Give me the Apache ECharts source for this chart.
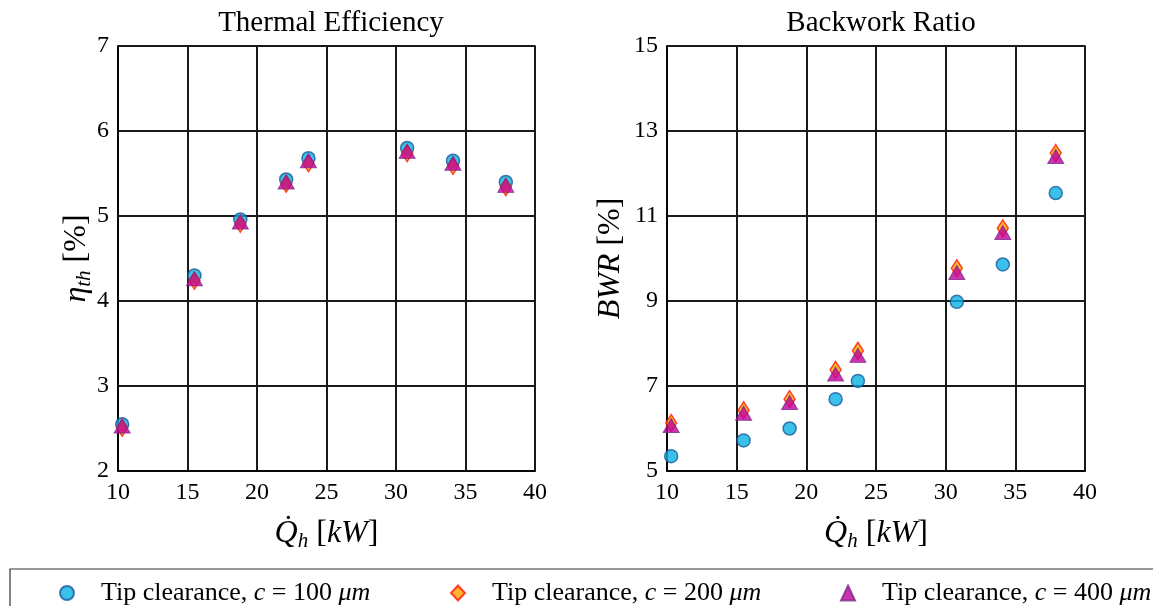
<!DOCTYPE html>
<html>
<head>
<meta charset="utf-8">
<script src="https://cdn.jsdelivr.net/npm/echarts@6/dist/echarts.min.js"></script>
<style>
  html, body { margin: 0; padding: 0; background: #fff; }
  #chart { width: 1153px; height: 606px; }
</style>
</head>
<body>
<div id="chart"></div>
<script>
// heat input (kW), shared by both plots
var heatInput = [10.3, 15.5, 18.8, 22.1, 23.7, 30.8, 34.1, 37.9];

// thermal efficiency (%)
var eta100 = [2.55, 4.30, 4.96, 5.43, 5.68, 5.80, 5.65, 5.40];
var eta200 = [2.51, 4.24, 4.91, 5.38, 5.62, 5.74, 5.59, 5.34];
var eta400 = [2.53, 4.26, 4.93, 5.40, 5.65, 5.76, 5.62, 5.36];

// backwork ratio (%)
var bwr100 = [5.35, 5.72, 6.00, 6.69, 7.12, 8.98, 9.86, 11.54];
var bwr200 = [6.13, 6.43, 6.69, 7.38, 7.83, 9.77, 10.71, 12.48];
var bwr400 = [6.07, 6.36, 6.61, 7.28, 7.72, 9.67, 10.61, 12.40];

var seriesNames = ['c100', 'c200', 'c400'];
var legendText = {
    c100: '{n|Tip clearance, }{i|c}{n| = 100 }{i|μm}',
    c200: '{n|Tip clearance, }{i|c}{n| = 200 }{i|μm}',
    c400: '{n|Tip clearance, }{i|c}{n| = 400 }{i|μm}'
};

var font = 'Liberation Serif';

function pairs(xs, ys) {
    return xs.map(function (x, i) { return [x, ys[i]]; });
}

var markers = {
    c100: { symbol: 'circle', symbolSize: 13, itemStyle: { color: '#09b0e3', borderColor: '#1a5a9c', borderWidth: 1.5 } },
    c200: { symbol: 'diamond', symbolSize: [11, 17], itemStyle: { color: '#ffa200', borderColor: '#ff1a00', borderWidth: 1.5 } },
    c400: { symbol: 'triangle', symbolSize: [16, 14], itemStyle: { color: '#c0009c', borderColor: '#7a2a8a', borderWidth: 1 } }
};

var nameRich = {
    i: { fontFamily: font, fontStyle: 'italic', fontSize: 32, color: '#000' },
    s: { fontFamily: font, fontStyle: 'italic', fontSize: 21, color: '#000', padding: [16, 0, 0, 0] },
    n: { fontFamily: font, fontSize: 32, color: '#000' }
};

function xAxisFor(gridIndex) {
    return {
        gridIndex: gridIndex,
        type: 'value',
        min: 10, max: 40, interval: 5,
        name: '{i|Q̇}{s|h}{n| [}{i|kW}{n|]}',
        nameLocation: 'middle',
        nameGap: 44,
        nameTextStyle: { rich: nameRich },
        axisLine: { show: true, lineStyle: { color: '#000', width: 1.5 } },
        axisTick: { show: false },
        axisLabel: { fontFamily: font, fontSize: 24, color: '#000', margin: 10 },
        splitLine: { show: true, lineStyle: { color: '#1a1a1a', width: 2 } }
    };
}

function yAxisFor(gridIndex, min, max, interval, name) {
    return {
        gridIndex: gridIndex,
        type: 'value',
        min: min, max: max, interval: interval,
        name: name,
        nameLocation: 'middle',
        nameRotate: 90,
        nameMoveOverlap: false,
        nameGap: gridIndex === 0 ? 23 : 40,
        nameTextStyle: { rich: nameRich },
        axisLine: { show: true, lineStyle: { color: '#000', width: 1.5 } },
        axisTick: { show: false },
        axisLabel: { fontFamily: font, fontSize: 24, color: '#000', margin: 9 },
        splitLine: { show: true, lineStyle: { color: '#1a1a1a', width: 2 } }
    };
}

function scatter(name, xi, data) {
    var m = markers[name];
    return {
        name: name,
        type: 'scatter',
        xAxisIndex: xi, yAxisIndex: xi,
        symbol: m.symbol,
        symbolSize: m.symbolSize,
        itemStyle: m.itemStyle,
        data: data
    };
}

function legendFor(name, left) {
    return {
        data: [name],
        left: left, top: 575,
        itemWidth: 14, itemHeight: 15,
        formatter: function (n) { return legendText[n]; },
        textStyle: {
            padding: [0, 0, 0, 22],
            rich: {
                n: { fontFamily: font, fontSize: 26, color: '#000' },
                i: { fontFamily: font, fontStyle: 'italic', fontSize: 26, color: '#000' }
            }
        }
    };
}

var myChart = echarts.init(document.getElementById('chart'));

var option = {
    animation: false,
    backgroundColor: '#fff',
    title: [
        { text: 'Thermal Efficiency', left: 326, top: 4, textAlign: 'center',
          textStyle: { fontFamily: font, fontWeight: 'normal', fontSize: 29, color: '#000' } },
        { text: 'Backwork Ratio', left: 876, top: 4, textAlign: 'center',
          textStyle: { fontFamily: font, fontWeight: 'normal', fontSize: 29, color: '#000' } }
    ],
    grid: [
        { left: 118, right: 618, top: 46, bottom: 135, show: true, borderColor: '#000', borderWidth: 1.5 },
        { left: 667, right: 68, top: 46, bottom: 135, show: true, borderColor: '#000', borderWidth: 1.5 }
    ],
    xAxis: [xAxisFor(0), xAxisFor(1)],
    yAxis: [
        yAxisFor(0, 2, 7, 1, '{i|η}{s|th}{n| [%]}'),
        yAxisFor(1, 5, 15, 2, '{i|BWR}{n| [%]}')
    ],
    legend: [
        legendFor('c100', 54),
        legendFor('c200', 445),
        legendFor('c400', 835)
    ],
    graphic: [
        { type: 'rect', shape: { x: 10, y: 569, width: 1160, height: 50 },
          style: { fill: 'none', stroke: '#333', lineWidth: 1.2 }, silent: true }
    ],
    series: [
        scatter('c100', 0, pairs(heatInput, eta100)),
        scatter('c200', 0, pairs(heatInput, eta200)),
        scatter('c400', 0, pairs(heatInput, eta400)),
        scatter('c100', 1, pairs(heatInput, bwr100)),
        scatter('c200', 1, pairs(heatInput, bwr200)),
        scatter('c400', 1, pairs(heatInput, bwr400))
    ]
};

myChart.setOption(option);
</script>
</body>
</html>
